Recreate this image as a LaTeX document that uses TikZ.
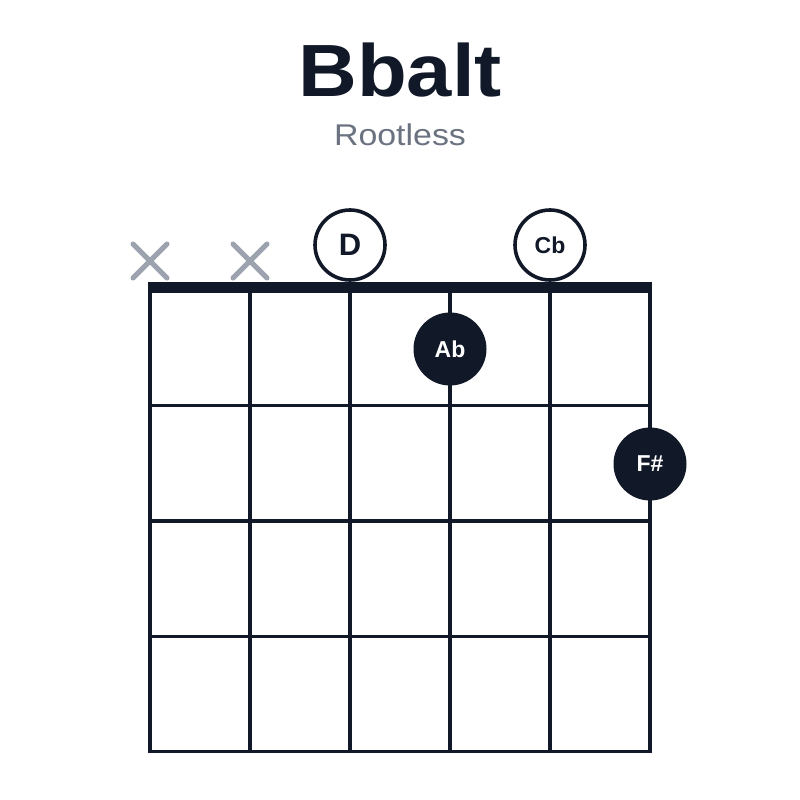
\documentclass[tikz,border=0pt]{standalone}
\usepackage{fontspec}
\setmainfont{Liberation Sans}
\definecolor{ink}{HTML}{111827}
\definecolor{xgray}{HTML}{9CA3AF}
\definecolor{subgray}{HTML}{6B7280}
\begin{document}
\begin{tikzpicture}[x=1pt,y=-1pt,
  gridline/.style={draw=ink,line width=3.6pt},
  nutline/.style={draw=ink,line width=11pt},
  openmark/.style={circle,draw=ink,line width=3.6pt,fill=white,minimum size=70pt,inner sep=0pt,text=ink},
  fullmark/.style={circle,fill=ink,minimum size=73pt,inner sep=0pt,text=white},
  mutedmark/.style={draw=xgray,line width=5pt,line cap=round},
  onefont/.style={font=\fontsize{31}{31}\selectfont\bfseries},
  twofont/.style={font=\fontsize{23}{23}\selectfont\bfseries}]
\useasboundingbox (0,0) rectangle (800,800);
\fill[white] (0,0) rectangle (800,800);
% title
\node[anchor=base,text=ink,font=\fontsize{74}{74}\selectfont\bfseries,inner sep=0pt] (title) at (400,96) {\scalebox{1.1}[1]{Bbalt}};
\node[anchor=base,text=subgray,font=\fontsize{30}{30}\selectfont,inner sep=0pt] (sub) at (400,145) {\scalebox{1.13}[1]{Rootless}};
% strings
\foreach \i in {0,...,5} {
  \coordinate (s\i t) at (150+100*\i,288);
  \coordinate (s\i b) at (150+100*\i,753);
  \draw[gridline] (s\i t) -- (s\i b);
}
% frets
\foreach \j/\y in {1/405.5,2/521,3/636.5,4/751.5} {
  \coordinate (f\j l) at (148.2,\y);
  \coordinate (f\j r) at (651.8,\y);
  \draw[gridline] (f\j l) -- (f\j r);
}
% nut
\coordinate (nl) at (148.2,287.5);
\coordinate (nr) at (651.8,287.5);
\draw[nutline] (nl) -- (nr);
% muted strings
\foreach \i/\x in {0/150,1/250} {
  \coordinate (m\i a) at (\x-17,244);
  \coordinate (m\i b) at (\x+17,278);
  \coordinate (m\i c) at (\x-17,278);
  \coordinate (m\i d) at (\x+17,244);
  \draw[mutedmark] (m\i a) -- (m\i b);
  \draw[mutedmark] (m\i c) -- (m\i d);
}
% open notes
\node[openmark,onefont] (nD) at (350,245) {D};
\node[openmark,twofont] (nCb) at (550,245) {Cb};
% fretted notes
\node[fullmark,twofont] (nAb) at (450,349) {Ab};
\node[fullmark,twofont] (nFs) at (650,464) {F\#};
\end{tikzpicture}
\end{document}
